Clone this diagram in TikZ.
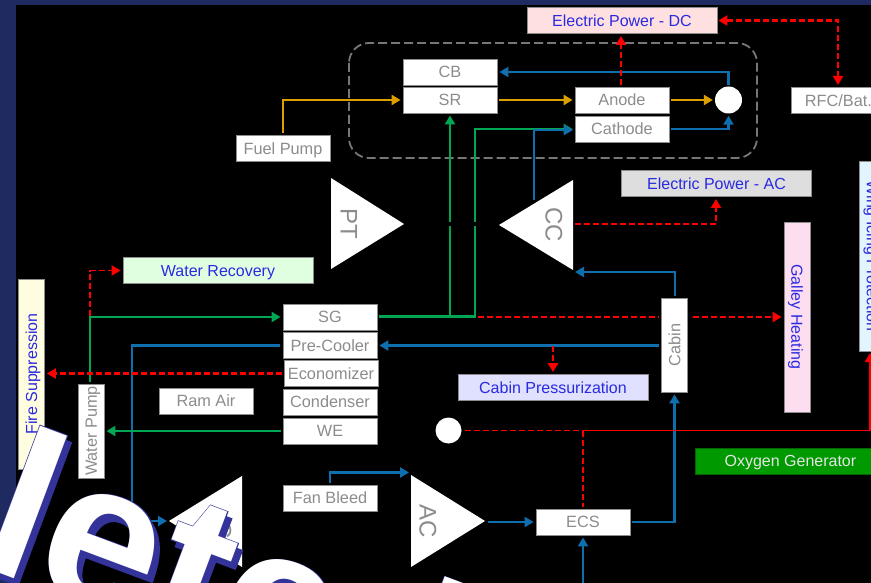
\documentclass[tikz,border=0pt]{standalone}
\usepackage{fontspec}
\setmainfont{Liberation Sans}
\newfontfamily\wmfont[FakeBold=0.8]{Liberation Sans Bold}
\newfontfamily\wmplain{Liberation Sans Bold}
\usetikzlibrary{arrows.meta}
\definecolor{navy}{HTML}{1F2A60}
\definecolor{gold}{HTML}{DBA000}
\definecolor{pipe}{HTML}{0F6FAE}
\definecolor{grn}{HTML}{00A651}
\definecolor{lbl}{HTML}{8C8C8C}
\definecolor{linkblue}{HTML}{2A2AE0}
\definecolor{wm}{HTML}{333399}
\tikzset{
  x=1pt,y=-1pt,
  tip/.style={-{Triangle[length=9pt,width=10pt]},shorten >=2pt},
  box/.style={draw=lbl,line width=0.8pt,fill=white,text=lbl,minimum width=94pt,minimum height=26pt,inner sep=0pt,text height=11.5pt,text depth=0pt,font=\fontsize{16.3}{16.3}\selectfont},
  load/.style={draw=lbl,line width=0.8pt,text=linkblue,minimum width=190pt,minimum height=26pt,inner sep=0pt,text height=11.5pt,text depth=0pt,font=\fontsize{16}{16}\selectfont},
  ball/.style={circle,fill=white,minimum size=27pt,inner sep=0pt},
  turb/.style={fill=white,draw=none},
  tlabel/.style={text=lbl,font=\fontsize{24}{24}\selectfont,rotate=-90},
  goldline/.style={gold,line width=2.4pt},
  blueline/.style={pipe,line width=2.4pt},
  greenline/.style={grn,line width=2.4pt},
  reddash/.style={red,line width=2.4pt,dash pattern=on 6pt off 3pt},
  stamp/.style={anchor=base west,rotate=-20.5,inner sep=0pt},
}
\begin{document}
\begin{tikzpicture}
\useasboundingbox (0,0) rectangle (871,583);
\clip (0,0) rectangle (871,583);
\fill[navy] (0,0) rectangle (871,583);
\fill[black] (16,5) rectangle (871,583);
% dashed stack outline
\draw[lbl!85!black,line width=1.8pt,dash pattern=on 9pt off 4pt,rounded corners=20pt] (349,43) rectangle (757,158);
% boxes
\node[box] (cb) at (450,72) {CB};
\node[box] (sr) at (450,100) {SR};
\node[box] (fuel) at (283,148.5) {Fuel Pump};
\node[box] (anode) at (622,100) {Anode};
\node[box] (cathode) at (622,129) {Cathode};
\node[ball] (mix) at (728.5,100) {};
\node[box,anchor=west] (rfc) at (791,100.5) {RFC/Bat.};
\node[load,fill=red!12] (dc) at (622,20.5) {Electric Power - DC};
\node[load,fill=black!13] (ac) at (716.5,183.5) {Electric Power - AC};
\node[load,fill=cyan!12,rotate=-90] (wing) at (872.5,256) {Wing Icing Protection};
\node[load,fill=magenta!13,rotate=-90] (galley) at (797,317) {Galley Heating};
\node[box,rotate=90] (cabin) at (674.5,345) {Cabin};
\node[load,fill=blue!12] (press) at (553,387.5) {Cabin Pressurization};
\node[load,fill=green!60!black,draw=green!40!black,text=white!90!black,anchor=west] (oxy) at (695,461) {Oxygen Generator};
\node[load,fill=green!12] (rec) at (218,270.5) {Water Recovery};
\node[load,fill=yellow!12,rotate=90] (fire) at (31.5,374) {Fire Suppression};
\node[box] (sg) at (330,317) {SG};
\node[box] (pre) at (330,345.5) {Pre-Cooler};
\node[box] (eco) at (331,373.5) {Economizer};
\node[box] (cond) at (330,402) {Condenser};
\node[box] (we) at (330,431) {WE};
\node[box] (ram) at (206,401) {Ram Air};
\node[box,rotate=90] (wp) at (91,431) {Water Pump};
\node[box] (fan) at (330,498) {Fan Bleed};
\node[box] (ecs) at (583,522) {ECS};
\node[ball,minimum size=26pt] (src) at (448.5,430.5) {};
% turbomachines
\fill[turb] (331,178) -- (331,269) -- (404,224) -- cycle;
\node[tlabel] (pt) at (349,224) {PT};
\fill[turb] (573,180) -- (573,270) -- (499,225) -- cycle;
\node[tlabel] (cc) at (554,225) {CC};
\fill[turb] (411,475) -- (411,567) -- (485,521) -- cycle;
\node[tlabel] (acn) at (428,521) {AC};
\fill[turb] (242,476) -- (242,567) -- (169,521) -- cycle;
\node[tlabel] (lc) at (223,530) {C};
% connectors
\draw[goldline,tip,shorten <=2pt] (fuel.north) |- (sr.west);
\draw[goldline,tip,shorten <=2pt] (sr.east) -- (anode.west);
\draw[goldline,tip,shorten <=2pt] (anode.east) -- (mix.west);
\draw[blueline,tip,shorten <=1pt] (mix.north) |- (cb.east);
\draw[blueline,tip,shorten <=2pt] (cathode.east) -| (mix.south);
% red feed under the green lines
\draw[reddash] (379,317) -- (659,317);
\coordinate (g1) at (450,316.5);
\coordinate (g2) at (475,316.5);
\draw[greenline] (379,316.5) -- (g2) -- (475,226);
\draw[greenline] (g1) -- (450,226);
\draw[greenline,tip] (450,222) -- (sr.south);
\draw[greenline,tip] (475,222) |- (cathode.west);
\draw[pipe,line width=1.6pt,tip] (534,200) -- (534,130) -- (575,130);
\draw[reddash,tip] (575,224) -- (716,224) -- (716,197);
\draw[reddash,tip,shorten <=2pt] (621,87) -- (621,34);
\draw[reddash,{Triangle[length=9pt,width=10pt]}-{Triangle[length=9pt,width=10pt]},shorten <=1pt,shorten >=2pt] (dc.east) -- (838,20.5) -- (838,87);
\draw[blueline,tip,shorten <=2pt] (675,298) -- (675,272) -- (573,272);
\draw[blueline,tip] (659,345.5) -- (pre.east);
\draw[blueline,-{Triangle[length=9pt,width=10pt]}] (280,345.5) -- (132,345.5) -- (132,521) -- (167,521);
\draw[reddash,tip] (553,345.5) -- (press.north);
\draw[reddash,tip] (693,317) -- (galley.south);
\draw[greenline,tip] (90,382) |- (sg.west);
\draw[reddash,line width=1.8pt,tip] (90,316) |- (rec.west);
\draw[reddash,tip,shorten <=2pt] (eco.west) -- (fire.south |- eco.west);
\draw[greenline,tip,shorten <=2pt] (we.west) -- (wp.south |- we.west);
\draw[blueline,tip,shorten <=2pt] (fan.north) |- (411,472.5);
\draw[blueline,tip] (488,522) -- (ecs.west);
\draw[blueline,tip,shorten <=2pt] (ecs.east) -| (cabin.west);
\coordinate (ecsfeed) at (583,583);
\draw[blueline,tip] (ecsfeed) -- (ecs.south);
\draw[red,line width=1.6pt,dash pattern=on 6pt off 3pt,shorten <=3pt] (src.east) -- (583,430.5);
\draw[red,line width=1.6pt] (583,430.5) -- (871,430.5);
\draw[reddash,shorten >=2pt] (583,430.5) -- (ecs.north);
\draw[red,line width=1.6pt,tip] (870,430.5) -- (870,351);
% stamp
\node[stamp,text=wm,font=\wmfont\fontsize{210}{210}\selectfont] (s1) at (-23,570) {leted};
\node[stamp,text=wm,font=\wmfont\fontsize{210}{210}\selectfont] (s2) at (-27,563) {leted};
\node[stamp,text=white,font=\wmplain\fontsize{210}{210}\selectfont] (s3) at (-27,563) {leted};
\end{tikzpicture}
\end{document}
